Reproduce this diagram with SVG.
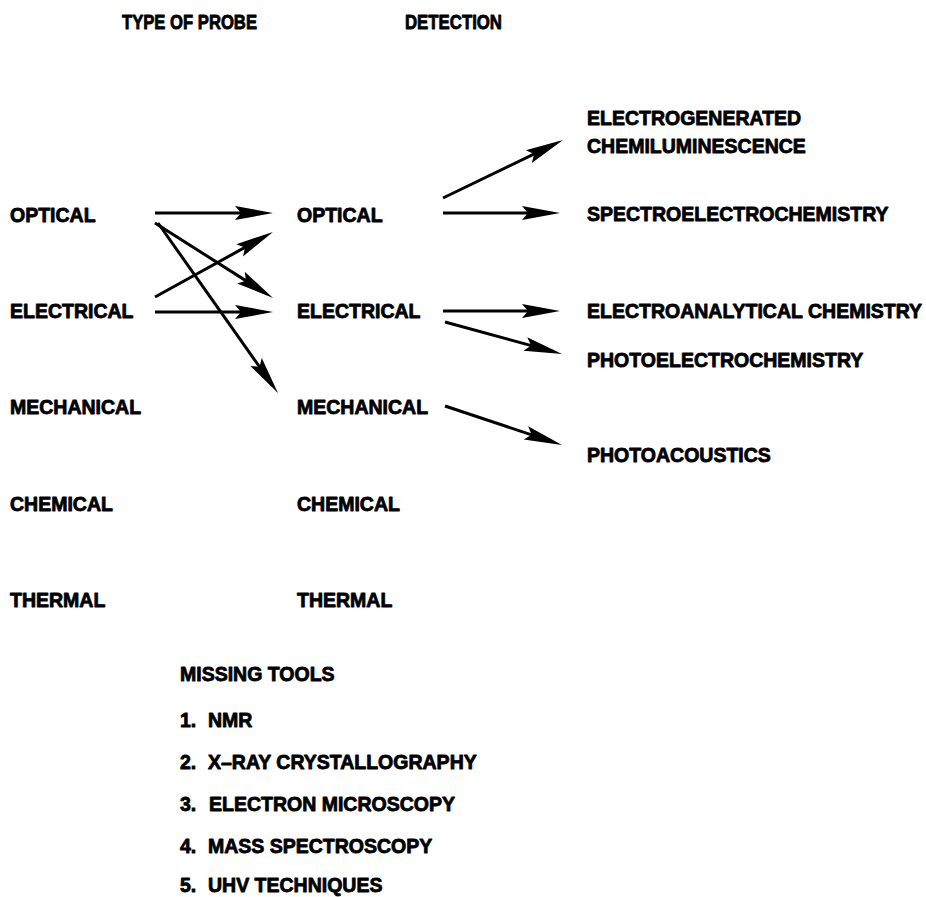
<svg xmlns="http://www.w3.org/2000/svg" width="926" height="897" viewBox="0 0 926 897">
<style>
text{font-family:"Liberation Sans",Arial,Helvetica,sans-serif;font-weight:bold;font-size:19.5px;fill:#000;stroke:#000;stroke-width:0.8;stroke-linejoin:round}
.c line{stroke:#000;stroke-width:3;fill:none;marker-end:url(#ah)}
</style>
<defs>
<marker id="ah" markerUnits="userSpaceOnUse" markerWidth="40" markerHeight="14" refX="28" refY="7" orient="auto" overflow="visible">
<path d="M0,0 L38,7 L0,14 L6,7 Z" fill="#000"/>
</marker>
</defs>
<rect width="926" height="897" fill="#fff"/>
<g id="headers">
<text x="122" y="29" textLength="135" lengthAdjust="spacingAndGlyphs">TYPE OF PROBE</text>
<text x="405" y="29" textLength="97" lengthAdjust="spacingAndGlyphs">DETECTION</text>
</g>
<g id="probe-optical"><text x="10" y="222">OPTICAL</text></g>
<g id="probe-electrical"><text x="10" y="318">ELECTRICAL</text></g>
<g id="probe-mechanical"><text x="10" y="414">MECHANICAL</text></g>
<g id="probe-chemical"><text x="10" y="511">CHEMICAL</text></g>
<g id="probe-thermal"><text x="10" y="607">THERMAL</text></g>
<g id="det-optical"><text x="297" y="222">OPTICAL</text></g>
<g id="det-electrical"><text x="297" y="318">ELECTRICAL</text></g>
<g id="det-mechanical"><text x="297" y="414">MECHANICAL</text></g>
<g id="det-chemical"><text x="297" y="511">CHEMICAL</text></g>
<g id="det-thermal"><text x="297" y="607">THERMAL</text></g>
<g id="ecl"><text x="587" y="125">ELECTROGENERATED</text><text x="587" y="153">CHEMILUMINESCENCE</text></g>
<g id="spectro"><text x="587" y="221">SPECTROELECTROCHEMISTRY</text></g>
<g id="electroanalytical"><text x="587" y="318">ELECTROANALYTICAL CHEMISTRY</text></g>
<g id="photoelectro"><text x="587" y="367">PHOTOELECTROCHEMISTRY</text></g>
<g id="photoacoustics"><text x="587" y="462">PHOTOACOUSTICS</text></g>
<g id="missing-tools">
<text x="180" y="681">MISSING TOOLS</text>
<text x="180" y="727">1.<tspan x="208">NMR</tspan></text>
<text x="180" y="769">2.<tspan x="208">X–RAY CRYSTALLOGRAPHY</tspan></text>
<text x="180" y="811">3.<tspan x="209">ELECTRON MICROSCOPY</tspan></text>
<text x="180" y="853">4.<tspan x="208">MASS SPECTROSCOPY</tspan></text>
<text x="180" y="892">5.<tspan x="208">UHV TECHNIQUES</tspan></text>
</g>
<g id="connectors" class="c">
<line x1="155" y1="213" x2="263" y2="213"/>
<line x1="155" y1="223" x2="264.6" y2="292.6"/>
<line x1="158" y1="223" x2="272.2" y2="384.8"/>
<line x1="155" y1="297" x2="264.2" y2="236.8"/>
<line x1="155" y1="312" x2="263" y2="312"/>
<line x1="443" y1="198" x2="554" y2="144.4"/>
<line x1="443" y1="213" x2="550" y2="213"/>
<line x1="443" y1="311" x2="550" y2="311"/>
<line x1="445" y1="322" x2="552.4" y2="351.4"/>
<line x1="445" y1="406" x2="552.5" y2="441.8"/>
</g>
</svg>
